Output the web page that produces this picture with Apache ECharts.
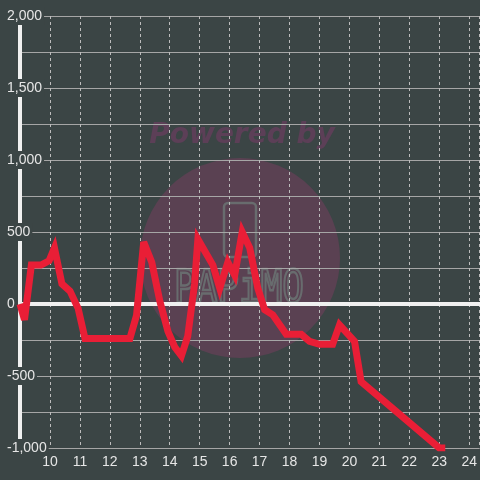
<!DOCTYPE html>
<html>
<head>
<meta charset="utf-8">
<script src="https://cdn.jsdelivr.net/npm/echarts@6/dist/echarts.min.js"></script>
<style>html,body{margin:0;padding:0;background:#3b4545;}#c{width:480px;height:480px;}</style>
</head>
<body>
<div id="c"></div>
<script>
var hours = [9.0, 9.15, 9.38, 9.7, 9.97, 10.15, 10.4, 10.67, 10.94, 11.17, 12.67, 12.89, 13.13, 13.4, 13.67, 13.94, 14.17, 14.39, 14.6, 14.83, 14.94, 15.44, 15.67, 15.94, 16.17, 16.42, 16.67, 16.94, 17.17, 17.44, 17.89, 18.39, 18.67, 19.0, 19.44, 19.67, 20.17, 20.39, 23.0, 23.2];
var values = [0, -110, 270, 270, 300, 390, 140, 90, -30, -240, -240, -80, 430, 290, 20, -190, -300, -360, -225, 140, 450, 270, 110, 290, 200, 500, 390, 110, -40, -75, -210, -210, -260, -280, -280, -145, -260, -540, -1000, -1000];
var yTickLabels = {'-1000': '-1,000', '-500': '-500', '0': '0', '500': '500', '1000': '1,000', '1500': '1,500', '2000': '2,000'};
var xTickLabels = ['10','11','12','13','14','15','16','17','18','19','20','21','22','23','24'];

var data = hours.map(function (h, i) { return [h, values[i]]; });
var bg = '#3b4545';
var chart = echarts.init(document.getElementById('c'));
chart.setOption({
  backgroundColor: bg,
  animation: false,
  grid: {left: 20, right: 0, top: 16, bottom: 32},
  graphic: [
    {type: 'circle', z: -10, shape: {cx: 240, cy: 258, r: 100}, style: {fill: '#5a4152'}},
    {type: 'text', z: -10, x: 242, y: 136, style: {text: 'Powered by', font: 'italic bold 28px "DejaVu Sans"', fill: '#5c3f57', align: 'center', verticalAlign: 'middle'}},
    {type: 'rect', z: -9, shape: {x: 224, y: 203, width: 32, height: 54, r: 4}, style: {fill: null, stroke: '#686c6e', lineWidth: 2.5}},
    {type: 'text', z: -9, x: 239, y: 290, scaleY: 1.25, style: {text: 'PAPiMO', font: '36px "DejaVu Sans Mono"', fill: null, stroke: '#686c6e', lineWidth: 2, align: 'center', verticalAlign: 'middle'}}
  ],
  xAxis: [{
    type: 'value', min: 9, max: 24.3333, interval: 1,
    axisLine: {show: true, onZero: false, lineStyle: {color: '#a6a6a6', width: 1}},
    axisTick: {show: false},
    axisLabel: {color: '#e6e6e6', fontSize: 14, fontFamily: 'Liberation Sans', margin: 7, showMinLabel: false, showMaxLabel: false,
      formatter: function (v) { var s = String(Math.round(v)); return (Math.abs(v - Math.round(v)) < 1e-6 && xTickLabels.indexOf(s) >= 0) ? s : ''; }},
    splitLine: {show: true, lineStyle: {color: '#bdbdbd', type: [3, 3], width: 1}}
  }, {
    type: 'value', min: 9, max: 24.3333, interval: 1,
    axisLine: {show: true, onZero: true, lineStyle: {color: '#f0f0f0', width: 4}},
    axisTick: {show: false}, axisLabel: {show: false}, splitLine: {show: false}
  }],
  yAxis: {
    type: 'value', min: -1000, max: 2000, interval: 250,
    axisLine: {show: true, onZero: false, lineStyle: {color: '#f0f0f0', width: 4}},
    axisTick: {show: false},
    axisLabel: {color: '#e6e6e6', fontSize: 14, fontFamily: 'Liberation Sans', margin: 14, align: 'left',
      backgroundColor: bg, padding: [2, 2, 2, 1],
      formatter: function (v) { var k = String(Math.round(v)); return yTickLabels.hasOwnProperty(k) ? yTickLabels[k] : ''; }},
    splitLine: {show: true, lineStyle: {color: '#a6a6a6', width: 1}}
  },
  series: [{
    type: 'line', data: data, showSymbol: false, symbol: 'none',
    lineStyle: {color: '#e91e36', width: 7, join: 'miter', cap: 'butt', miterLimit: 4},
    z: 5
  }]
});
</script>
</body>
</html>
